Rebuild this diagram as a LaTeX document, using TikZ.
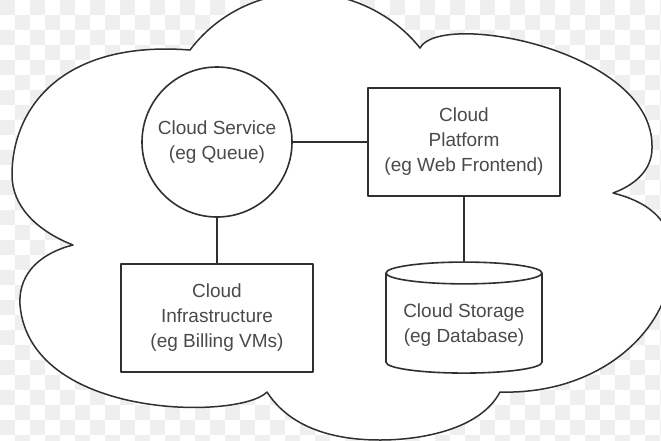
\documentclass[tikz,border=0pt]{standalone}
\usepackage{fontspec}
\setmainfont{Liberation Sans}
\usetikzlibrary{shapes.geometric}
\definecolor{ink}{HTML}{303030}
\definecolor{txt}{HTML}{4a4a4a}
\definecolor{chk}{HTML}{efefef}
\begin{document}
\begin{tikzpicture}[x=1pt,y=-1pt, line join=round, line cap=round, font=\fontsize{19}{25}\selectfont,
	every node/.style={text=txt, align=center, draw=ink, line width=1.6pt},
	svc/.style={circle, minimum size=150pt, inner sep=0pt},
	tier/.style={rectangle, minimum width=192pt, minimum height=108pt},
	store/.style={cylinder, shape border rotate=90, aspect=.17, minimum width=156pt, minimum height=111pt},
	link/.style={ink, line width=1.6pt}]
	\useasboundingbox (0,0) rectangle (661,440);
	\clip (0,0) rectangle (661,440);
	% checker background
	\foreach \i in {0,...,22} \foreach \j in {0,...,14} {
		\fill[chk] (30*\i,30*\j) rectangle +(15,15);
		\fill[chk] (30*\i+15,30*\j+15) rectangle +(15,15);
	}
	% cloud outline
	\draw[ink, line width=1.5pt, fill=white]
		(190,50) .. controls (217,14) and (260,-7) .. (305,-7)
		.. controls (350,-7) and (393,14) .. (420,48)
		.. controls (440,10) and (655,50) .. (652,148)
		.. controls (652,170) and (635,185) .. (613,193)
		.. controls (640,200) and (675,215) .. (672,262)
		.. controls (670,330) and (600,395) .. (500,392)
		.. controls (480,430) and (420,440) .. (380,440)
		.. controls (320,440) and (285,420) .. (267,392)
		.. controls (240,420) and (30,420) .. (20,305)
		.. controls (18,270) and (45,252) .. (73,245)
		.. controls (35,230) and (12,205) .. (12,175)
		.. controls (12,110) and (60,40) .. (190,50) -- cycle;
	\node[svc] (service) at (217,142) {Cloud Service\\(eg Queue)};
	\node[tier] (platform) at (464,142) {Cloud\\Platform\\(eg Web Frontend)};
	\node[tier] (infra) at (217,318) {Cloud\\Infrastructure\\(eg Billing VMs)};
	\node[store] (storage) at (464,325) {Cloud Storage\\(eg Database)};
	\draw[link] (service) -- (platform);
	\draw[link] (service) -- (infra);
	\draw[link] (platform) -- (storage);
\end{tikzpicture}
\end{document}
